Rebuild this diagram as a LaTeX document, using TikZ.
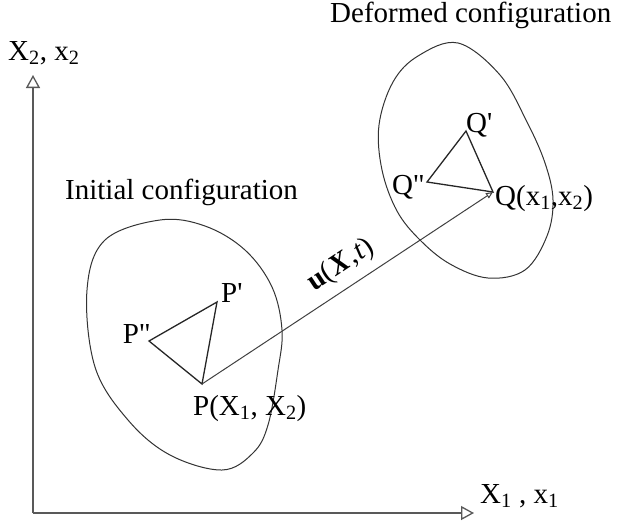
\documentclass[tikz,border=0pt]{standalone}
\usepackage{fontspec}
\setmainfont{Liberation Serif}
\usetikzlibrary{arrows.meta,positioning}

\begin{document}
\begin{tikzpicture}[x=1pt,y=-1pt,
    axis/.style={draw=black!65, line width=1.3pt, -{Triangle[open,length=13pt,width=14pt]}},
    blob/.style={draw=black!80, line width=1pt},
    tri/.style={draw=black!85, line width=1.3pt},
    lab/.style={font=\fontsize{29}{32}\selectfont, inner sep=0pt}]
  \useasboundingbox (0,0) rectangle (620,525);

  % axes
  \coordinate (O) at (33,513);
  \coordinate (e1) at (474,513);
  \coordinate (e2) at (33,75);
  \draw[axis] (O) -- (e1);
  \draw[axis] (O) -- (e2);
  \node[lab, anchor=base west] (x1lab) at (480,503) {X\textsubscript{1} , x\textsubscript{1}};
  \node[lab, anchor=base west] (x2lab) at (8,60) {X\textsubscript{2}, x\textsubscript{2}};

  % bodies
  \draw[blob] plot[smooth cycle, tension=0.6] coordinates {(160,220) (105,240) (87,290) (95,367)
    (128,420) (170,455) (222,470) (253,453) (268,425) (278,370) (282,330) (272,287) (245,250) (205,226)};
  \draw[blob] plot[smooth cycle, tension=0.6] coordinates {(458,43) (418,56) (393,82) (379,125)
    (382,170) (397,211) (420,240) (450,264) (488,278) (525,270) (547,236) (553,200) (545,163)
    (527,122) (500,75)};
  \node[lab, anchor=base west] (ini) at (65,199) {Initial configuration};
  \node[lab, anchor=base west] (def) at (330,22) {Deformed configuration};

  % triangles
  \coordinate (P) at (202,384);
  \coordinate (P1) at (217,302);
  \coordinate (P2) at (149,341);
  \coordinate (Q) at (493,192);
  \coordinate (Q1) at (466,131);
  \coordinate (Q2) at (427,182);
  \draw[tri] (P2) -- (P1) -- (P) -- cycle;
  \draw[tri] (Q2) -- (Q1) -- (Q) -- cycle;
  \node[lab, anchor=base west] (P1lab) at (221,302) {P\textquotesingle};
  \node[lab, anchor=base east] (P2lab) at (151,343) {P\textquotedbl};
  \node[lab, anchor=base west] (Plab) at (193,415) {P(X\textsubscript{1}, X\textsubscript{2})};
  \node[lab, anchor=base west] (Q1lab) at (466,132) {Q\textquotesingle};
  \node[lab, anchor=base east] (Q2lab) at (425,194) {Q\textquotedbl};
  \node[lab, anchor=base west] (Qlab) at (495,205) {Q(x\textsubscript{1},x\textsubscript{2})};

  % displacement
  \draw[draw=black!75, line width=1pt, -{Triangle[open,length=7pt,width=6pt]}] (P) -- node[lab, sloped, above=9pt, pos=0.52]
    {\textbf{u}(\kern1pt\textbf{\textit{X}}\kern1pt,\textit{t})} (Q);
\end{tikzpicture}
\end{document}
